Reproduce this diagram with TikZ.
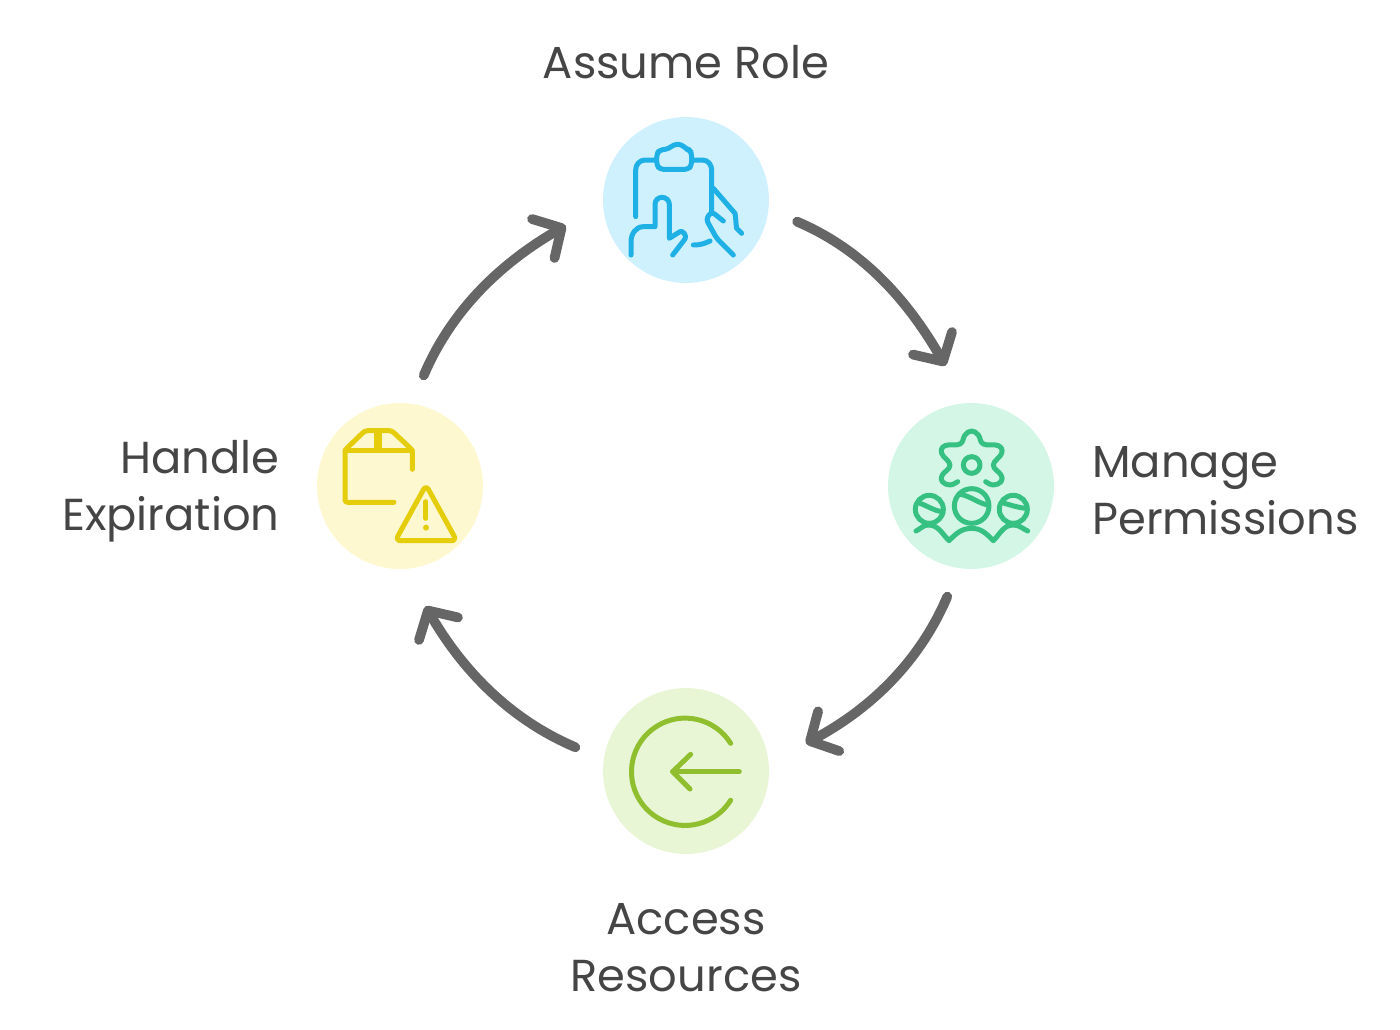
\documentclass[tikz,border=0pt]{standalone}
\usepackage{fontspec}
\setmainfont{Poppins}
\usetikzlibrary{arrows.meta}
\definecolor{arcgray}{HTML}{666666}
\definecolor{textgray}{HTML}{454545}
\definecolor{roleback}{HTML}{CFF1FE}
\definecolor{roleline}{HTML}{1FB0E6}
\definecolor{permback}{HTML}{D3F6E6}
\definecolor{permline}{HTML}{36C183}
\definecolor{accessback}{HTML}{E9F6D6}
\definecolor{accessline}{HTML}{8FBE2E}
\definecolor{expireback}{HTML}{FEF8D0}
\definecolor{expireline}{HTML}{E5CD0B}
\begin{document}
\begin{tikzpicture}[x=0.02cm, y=-0.02cm, font=\fontsize{25.5}{32.3}\selectfont]
%% the figure is laid out in pixels of the 1400x1029 drawing
%% the icons use their own coordinates, three times finer
\tikzstyle{arc}=[-{Straight Barb[length=4.2mm,width=9mm,round]},line width=1.95mm,line cap=round,arcgray,shorten <=-2mm]
\tikzstyle{stepcircle}=[circle,minimum size=3.32cm,outer sep=8mm,inner sep=0pt]
\tikzstyle{steplabel}=[text=textgray,inner sep=0pt]
\tikzstyle{icon}=[x=0.00667cm,y=-0.00667cm,line width=1mm,line cap=round,line join=round]
\useasboundingbox (0,0) rectangle (1400,1029);
%% TikZ-figure elements %%
\node[stepcircle,fill=roleback] at (686,200) (AssumeRole) {};
\node[stepcircle,fill=permback] at (971,486) (ManagePermissions) {};
\node[stepcircle,fill=accessback] at (686,771) (AccessResources) {};
\node[stepcircle,fill=expireback] at (400,486) (HandleExpiration) {};
%% labels of the steps
\node[steplabel] at (686,62) (AssumeRoleLabel) {Assume Role};
\node[steplabel,align=left,anchor=west] at (1092,491) (ManagePermissionsLabel) {Manage\\Permissions};
\node[steplabel,align=center] at (686,948) (AccessResourcesLabel) {Access\\Resources};
\node[steplabel,align=right,anchor=east] at (280,491) (HandleExpirationLabel) {Handle\\Expiration};
%% arcs between the steps
\draw[arc] (AssumeRole.-12) to[out=-23,in=120,looseness=0.87] (ManagePermissions.102);
\draw[arc] (ManagePermissions.-103) to[out=-113,in=28,looseness=0.87] (AccessResources.13);
\draw[arc] (AccessResources.167) to[out=157,in=-60,looseness=0.87] (HandleExpiration.-78);
\draw[arc] (HandleExpiration.77) to[out=67,in=210,looseness=0.87] (AssumeRole.192);
%% icon for AssumeRole
\begin{scope}[shift={(600,115)},icon,roleline]
\draw (107,305) -- (107,165) to[out=90,in=180] (135,135) -- (168,135);
\draw (278,135) -- (308,135) to[out=0,in=90] (335,165) -- (335,290);
\draw[rounded corners=2pt] (178,105) -- (205,102) -- (222,88) -- (245,88) -- (258,102) -- (270,105) -- (275,118) -- (275,150) -- (265,163) -- (180,163) -- (170,150) -- (170,118) -- cycle;
\draw (93,420) -- (93,380) to[out=90,in=180] (130,335) -- (165,335) -- (165,268) to[out=90,in=180] (186,247) to[out=0,in=90] (208,268) -- (208,370) -- (240,350) to[out=30,in=50] (255,372) -- (218,420);
\draw (340,220) -- (405,295) to[out=-80,in=100] (410,340) -- (425,355);
\draw[rounded corners=2pt] (370,318) -- (335,290) -- (318,312) -- (350,370) -- (400,420);
\draw (280,390) to[out=0,in=205] (330,378);
\end{scope}
%% icon for ManagePermissions
\begin{scope}[shift={(885,400)},icon,permline]
\draw plot[smooth,tension=.7] coordinates {(218,245) (195,255) (172,245) (172,225) (195,195) (170,160) (180,137) (225,132) (240,105) (260,93) (280,105) (295,132) (340,137) (350,160) (325,195) (348,225) (348,245) (325,255) (302,245)};
\draw (260,195) circle (25);
\draw (133,328) circle (42);
\draw (260,318) circle (52);
\draw (385,328) circle (42);
\draw (105,310) to[out=-20,in=170] (170,335);
\draw (222,282) to[out=-10,in=165] (307,315);
\draw (358,310) to[out=-15,in=175] (424,325);
\draw (93,393) to[out=25,in=180] (130,375) to[out=0,in=135] (192,422) to[out=45,in=180] (260,385) to[out=0,in=135] (325,422) to[out=45,in=180] (385,375) to[out=0,in=155] (428,393);
\end{scope}
%% icon for AccessResources
\begin{scope}[shift={(600,685)},icon,accessline]
\draw (392,175) arc[start angle=-32,end angle=-328,radius=161];
\draw (418,260) -- (218,260);
\draw (272,208) -- (218,260) -- (270,312);
\end{scope}
%% icon for HandleExpiration
\begin{scope}[shift={(315,400)},icon,expireline]
\draw[rounded corners=1.5pt] (237,307) -- (90,307) -- (90,150) -- (150,92) -- (230,92) -- (292,150) -- (292,208);
\draw (90,150) -- (292,150);
\draw[line width=1.5mm,line cap=butt] (189,92) -- (189,150);
\draw[rounded corners=3pt] (333,255) -- (425,422) -- (241,422) -- cycle;
\draw (333,305) -- (333,355);
\fill (333,383) circle (9);
\end{scope}
\end{tikzpicture}
\end{document}
